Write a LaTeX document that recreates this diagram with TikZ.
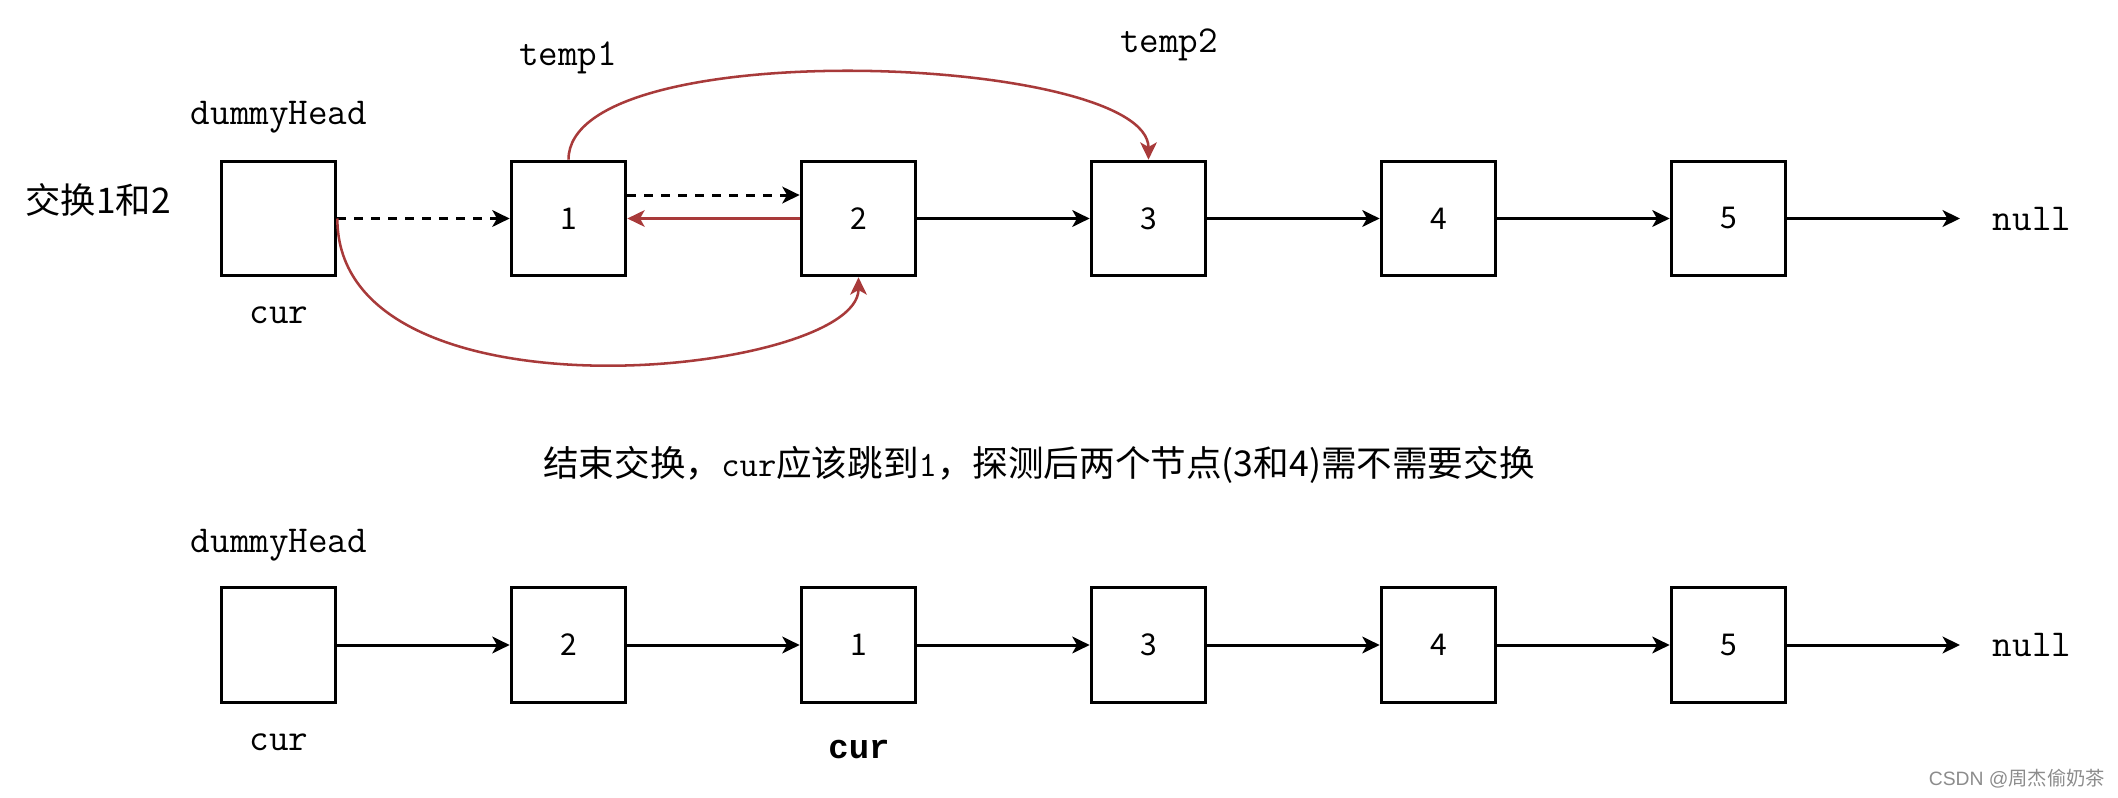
\documentclass[tikz,border=0pt]{standalone}
\usepackage{fontspec}
\newfontfamily\cjk{Noto Sans CJK SC}
\newfontfamily\boldmono{Liberation Mono}
\usetikzlibrary{arrows.meta,calc}
\definecolor{redc}{RGB}{168,58,58}
\definecolor{wm}{RGB}{140,140,140}
\begin{document}
\begin{tikzpicture}[x=0.75pt,y=-0.75pt,
  box/.style={draw=black, line width=2.25pt, minimum width=86pt, minimum height=86pt, inner sep=0pt, font=\cjk\fontsize{22.5}{26}\selectfont},
  lbl/.style={font=\ttfamily\fontsize{28.5}{32}\selectfont, inner sep=0pt},
  tip/.style={-{Stealth[length=13pt,width=12.5pt,inset=3.5pt]}},
  link/.style={tip, line width=2.25pt, draw=black},
  dlink/.style={link, dash pattern=on 6.75pt off 6pt},
  rlink/.style={tip, line width=1.9pt, draw=redc, color=redc}
]
\useasboundingbox (0,0) rectangle (2118,798);

% top row
\node[box] (d0) at (278.5,218.5) {};
\node[box] (n1) at (568.5,218.5) {1};
\node[box] (n2) at (858.5,218.5) {2};
\node[box] (n3) at (1148.5,218.5) {3};
\node[box] (n4) at (1438.5,218.5) {4};
\node[box] (n5) at (1728.5,218.5) {5};
\coordinate (nullA) at (1960,218.5);
\node[lbl] (nullT) at (2032,219) {null};

\node[lbl] (dh1) at (279,117) {dummyHead};
\node[lbl] (cur1) at (279,315) {cur};
\node[lbl] (t1) at (568,58) {temp1};
\node[lbl] (t2) at (1169,45) {temp2};
\node[inner sep=0pt, font=\cjk\fontsize{26.5}{30}\selectfont] (title1) at (98,200) {交换1和2};

\draw[dlink] (d0.east) -- (n1.west);
\draw[dlink] ([yshift=17.6pt]n1.east) -- ([yshift=17.6pt]n2.west);
\draw[rlink] (n2.west) -- (n1.east);
\draw[link] (n2) -- (n3);
\draw[link] (n3) -- (n4);
\draw[link] (n4) -- (n5);
\draw[link] (n5.east) -- (nullA);

\draw[rlink] (n1.north) .. controls ($(n1.north)+(0,-128)$) and ($(n3.north)+(0,-105)$) .. (n3.north);
\draw[rlink] (d0.east) .. controls ($(d0.east)+(0,212)$) and ($(n2.south)+(0,98)$) .. (n2.south);

% middle text
\node[inner sep=0pt, font=\cjk\fontsize{26.7}{30}\selectfont] (mid) at (1039,465)
  {结束交换，{\ttfamily cur}应该跳到{\ttfamily 1}，探测后两个节点(3和4)需不需要交换};

% bottom row
\node[box] (b0) at (278.5,645) {};
\node[box] (b1) at (568.5,645) {2};
\node[box] (b2) at (858.5,645) {1};
\node[box] (b3) at (1148.5,645) {3};
\node[box] (b4) at (1438.5,645) {4};
\node[box] (b5) at (1728.5,645) {5};
\coordinate (nullB) at (1960,645);
\node[lbl] (nullT2) at (2032,645) {null};

\node[lbl] (dh2) at (279,545) {dummyHead};
\node[lbl] (cur2) at (279,742) {cur};
\node[inner sep=0pt, font=\boldmono\bfseries\fontsize{25.5}{30}\selectfont] (cur3) at (859,750) {cur};

\draw[link] (b0) -- (b1);
\draw[link] (b1) -- (b2);
\draw[link] (b2) -- (b3);
\draw[link] (b3) -- (b4);
\draw[link] (b4) -- (b5);
\draw[link] (b5.east) -- (nullB);

\node[inner sep=0pt, text=wm, font=\fontspec{Liberation Sans}\fontsize{14.5}{17}\selectfont] (wmk) at (2017,779) {CSDN @{\cjk 周杰偷奶茶}};
\end{tikzpicture}
\end{document}
